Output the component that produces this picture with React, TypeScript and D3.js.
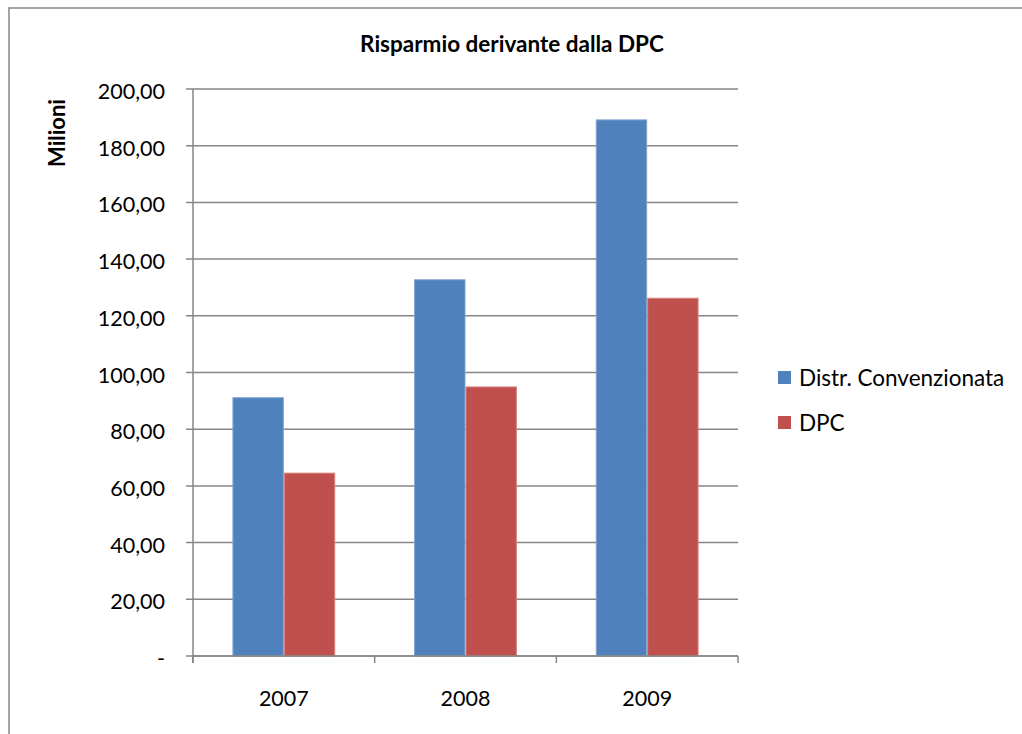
import React from "react";
import * as d3 from "d3";

const years = ["2007", "2008", "2009"];
const seriesNames = ["Distr. Convenzionata", "DPC"];
const distrConvenzionata = [91.1, 132.7, 189.1];
const dpc = [64.5, 94.9, 126.2];
const yTicks = [0, 20, 40, 60, 80, 100, 120, 140, 160, 180, 200];
const colors = ["#4F81BD", "#C0504D"];
const edgeColors = ["#7FA3D1", "#D8827F"];

const FONT = "Lato, 'Open Sans', sans-serif";
const GRID = "#868686";

export default function App() {
  const W = 1022;
  const H = 734;
  const left = 193;
  const right = 738;
  const top = 89;
  const bottom = 656;

  const x0 = d3.scaleBand<string>().domain(years).range([left, right]).paddingInner(0).paddingOuter(0);
  const x1 = d3
    .scaleBand<string>()
    .domain(seriesNames)
    .range([0, x0.bandwidth()])
    .paddingInner(0)
    .paddingOuter(0.767);
  const y = d3.scaleLinear().domain([0, 200]).range([bottom, top]);

  const values = [distrConvenzionata, dpc];
  const fmt = (v: number) => (v === 0 ? "-" : d3.format(".2f")(v).replace(".", ","));

  return (
    <div style={{ position: "absolute", left: 0, top: 0, width: W, height: H, overflow: "hidden" }}>
      <svg width={W} height={H} style={{ display: "block" }} fontFamily={FONT}>
        <rect x={0} y={0} width={W} height={H} fill="#fff" />
        {/* chart frame; its right and bottom edges lie past the view */}
        <rect x={9} y={8} width={W + 40} height={H + 40} fill="none" stroke={GRID} strokeWidth={1.5} />

        <text x={512} y={52} textAnchor="middle" fontSize={22.5} fontWeight="bold" fill="#000">
          Risparmio derivante dalla DPC
        </text>

        <text
          transform={`translate(65,133) rotate(-90)`}
          textAnchor="middle"
          fontSize={22}
          fontWeight="bold"
          fill="#000"
        >
          Milioni
        </text>

        {/* gridlines and y ticks */}
        {yTicks.map((t) => (
          <g key={t}>
            <line x1={186} x2={right} y1={y(t)} y2={y(t)} stroke={GRID} strokeWidth={1.5} />
            <text x={165} y={y(t) + 10} textAnchor="end" fontSize={21.5} fill="#000">
              {fmt(t)}
            </text>
          </g>
        ))}

        {/* bars */}
        {years.map((yr, i) => (
          <g key={yr} transform={`translate(${x0(yr)},0)`}>
            {seriesNames.map((s, j) => (
              <rect
                key={s}
                x={x1(s)! + 0.5}
                y={y(values[j][i])}
                width={x1.bandwidth() - 1}
                height={bottom - y(values[j][i])}
                fill={colors[j]}
                stroke={edgeColors[j]}
                strokeWidth={1}
              />
            ))}
          </g>
        ))}

        {/* axes */}
        <line x1={left} x2={left} y1={top} y2={bottom + 7} stroke={GRID} strokeWidth={1.5} />
        <line x1={left} x2={right} y1={bottom} y2={bottom} stroke={GRID} strokeWidth={1.5} />
        {[...years.map((yr) => x0(yr)!), right].map((xv, i) => (
          <line key={i} x1={xv} x2={xv} y1={bottom} y2={bottom + 7} stroke={GRID} strokeWidth={1.5} />
        ))}
        {years.map((yr) => (
          <text
            key={yr}
            x={x0(yr)! + x0.bandwidth() / 2}
            y={706}
            textAnchor="middle"
            fontSize={21.5}
            fill="#000"
          >
            {yr}
          </text>
        ))}

        {/* legend */}
        {seriesNames.map((s, j) => (
          <g key={s} transform={`translate(778,${371 + j * 45})`}>
            <rect x={0} y={0} width={13} height={13} fill={colors[j]} />
            <text x={21} y={14.5} fontSize={22.5} fill="#000">
              {s}
            </text>
          </g>
        ))}
      </svg>
    </div>
  );
}
